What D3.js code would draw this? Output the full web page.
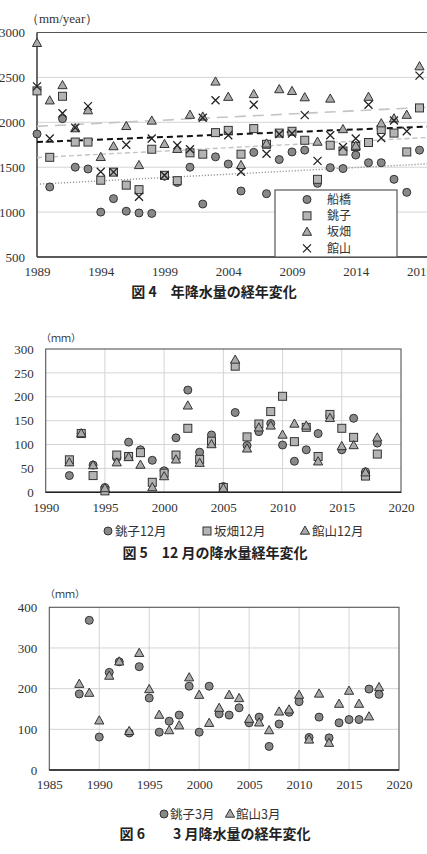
<!DOCTYPE html>
<html><head><meta charset="utf-8">
<script src="https://cdn.jsdelivr.net/npm/d3@7"></script>
<style>
html,body{margin:0;padding:0;background:#fff;overflow:hidden}
svg{display:block}
</style></head><body>
<script>
// ---------- Figure 4: annual precipitation ----------
const years4 = [1989,1990,1991,1992,1993,1994,1995,1996,1997,1998,1999,2000,2001,2002,2003,2004,2005,2006,2007,2008,2009,2010,2011,2012,2013,2014,2015,2016,2017,2018,2019];
const funabashi = [1870,1280,2040,1500,1480,1000,1150,1010,990,985,1400,1330,1500,1090,1615,1535,1235,1665,1205,1585,1670,1690,1320,1495,1485,1635,1550,1550,1365,1220,1690];
const choshi    = [2350,1610,2290,1780,1780,1355,1445,1300,1250,1700,1410,1350,1660,1645,1885,1910,1645,1930,1755,1880,1900,1800,1365,1745,1680,1730,1775,1920,1880,1670,2160];
const sakahata  = [2880,2240,2410,1930,2130,1610,1730,1955,1520,2015,1755,1700,2080,2060,2450,2280,1520,2310,1760,2365,2345,2275,1780,2260,1920,1735,2280,1985,2040,2080,2620];
const tateyama  = [2400,1820,2100,1940,2180,1450,1445,1750,1170,1820,1410,1745,1700,2050,2245,1855,1450,2195,1650,1870,1875,2080,1570,1855,1725,1820,2195,1825,2020,1900,2520];
const trendYears4 = [1989,2020];
const trendFunabashi = [1311,1540];
const trendChoshi    = [1608,1833];
const trendSakahata  = [1955,2170];
const trendTateyama  = [1780,1954];
const names4 = ["船橋","銚子","坂畑","館山"];
const yTicks4 = [500,1000,1500,2000,2500,3000];
const xTicks4 = [1989,1994,1999,2004,2009,2014,2019];

// ---------- Figure 5: December ----------
const years5 = [1992,1993,1994,1995,1996,1997,1998,1999,2000,2001,2002,2003,2004,2005,2006,2007,2008,2009,2010,2011,2012,2013,2014,2015,2016,2017,2018];
const choshiDec   = [35,123,57,10,72,105,89,67,45,114,214,84,120,12,167,98,127,144,99,65,89,123,160,89,155,43,103];
const sakahataDec = [68,123,35,3,78,75,83,21,40,78,134,69,107,10,264,116,143,169,201,106,136,75,163,134,115,34,80];
const tateyamaDec = [62,123,56,8,62,73,57,10,33,68,181,61,100,8,277,91,135,139,120,143,139,64,155,96,98,41,114];
const names5 = ["銚子12月","坂畑12月","館山12月"];
const yTicks5 = [0,50,100,150,200,250,300];
const xTicks5 = [1990,1995,2000,2005,2010,2015,2020];

// ---------- Figure 6: March ----------
const years6 = [1988,1989,1990,1991,1992,1993,1994,1995,1996,1997,1998,1999,2000,2001,2002,2003,2004,2005,2006,2007,2008,2009,2010,2011,2012,2013,2014,2015,2016,2017,2018];
const choshiMar   = [187,368,81,240,266,91,254,177,93,120,135,206,93,206,138,135,153,116,130,58,113,142,168,80,130,79,116,124,124,199,186];
const tateyamaMar = [211,189,121,231,266,95,287,198,135,97,109,227,184,115,152,184,176,125,116,97,143,148,184,74,187,66,162,194,162,131,203];
const names6 = ["銚子3月","館山3月"];
const yTicks6 = [0,100,200,300,400];
const xTicks6 = [1985,1990,1995,2000,2005,2010,2015,2020];

const SERIF = '"Liberation Serif","DejaVu Serif",serif';
const JP = '"Noto Sans CJK JP","Noto Sans",sans-serif';

const svg = d3.select("body").append("svg").attr("width",427).attr("height",854);

function numStyle(sel, size){
  sel.style("font-family",SERIF).style("font-size",(size||13)+"px").style("fill","#333");
}
function jpText(g, x, y, txt, size, anchor){
  return g.append("text").attr("x",x).attr("y",y).attr("dy","0.36em")
    .attr("text-anchor",anchor||"start")
    .style("font-family",JP).style("font-size",size+"px").style("fill","#333").text(txt);
}

// marker helpers
const STROKE = "#333";
function mark(g, type, x, y){
  if(type==="circle") return g.append("circle").attr("cx",x).attr("cy",y).attr("r",4).attr("fill","#888").attr("stroke",STROKE).attr("stroke-width",1);
  if(type==="square") return g.append("rect").attr("x",x-4).attr("y",y-4).attr("width",8).attr("height",8).attr("fill","#b4b4b4").attr("stroke",STROKE).attr("stroke-width",1);
  if(type==="triangle") return g.append("path").attr("d",`M${x},${y-5}L${x+4.6},${y+3.2}L${x-4.6},${y+3.2}Z`).attr("fill","#aaa").attr("stroke",STROKE).attr("stroke-width",1);
  if(type==="cross") return g.append("path").attr("d",`M${x-4},${y-4}L${x+4},${y+4}M${x-4},${y+4}L${x+4},${y-4}`).attr("stroke","#222").attr("stroke-width",1.3).attr("fill","none");
}

function axes(g, x, y, xTicks, yTicks, x0, y0){
  const ya = g.append("g").attr("transform",`translate(${x0},0)`).call(d3.axisLeft(y).tickValues(yTicks).tickSize(0).tickPadding(12).tickFormat(d3.format("d")));
  ya.select(".domain").remove();
  numStyle(ya.selectAll("text"));
  const xa = g.append("g").attr("transform",`translate(0,${y0})`).call(d3.axisBottom(x).tickValues(xTicks).tickSize(0).tickPadding(10).tickFormat(d3.format("d")));
  xa.select(".domain").remove();
  numStyle(xa.selectAll("text"));
}

// ===== Figure 4 =====
(function(){
  const g = svg.append("g");
  const x = d3.scaleLinear().domain([1989,2019]).range([37,419.5]);
  const y = d3.scaleLinear().domain([500,3000]).range([257,32.5]);
  const xR = x(2020.5);
  g.selectAll(".gl").data(yTicks4.filter(v=>v>500 && v<3000)).join("line")
    .attr("x1",x(1989)).attr("x2",xR).attr("y1",d=>y(d)).attr("y2",d=>y(d))
    .attr("stroke","#d4d4d4").attr("stroke-width",1);
  g.append("line").attr("x1",x(1989)).attr("x2",xR).attr("y1",y(3000)).attr("y2",y(3000)).attr("stroke","#555").attr("stroke-width",1.2);
  g.append("line").attr("x1",x(1989)).attr("x2",xR).attr("y1",y(500)).attr("y2",y(500)).attr("stroke","#222").attr("stroke-width",1.6);
  g.append("line").attr("x1",x(1989)).attr("x2",x(1989)).attr("y1",y(3000)).attr("y2",y(500)).attr("stroke","#444").attr("stroke-width",1.6);
  axes(g, x, y, xTicks4, yTicks4, x(1989), y(500));
  numStyle(g.append("text").attr("x",26).attr("y",23).text("（mm/year）"));
  const tl = (vals, color, dash, w) => g.append("line")
    .attr("x1",x(trendYears4[0])).attr("x2",x(trendYears4[1]))
    .attr("y1",y(vals[0])).attr("y2",y(vals[1]))
    .attr("stroke",color).attr("stroke-dasharray",dash).attr("stroke-width",w);
  tl(trendSakahata,"#c4c4c4","11,7",1.6);
  tl(trendChoshi,"#c4c4c4","5,3",1.4);
  tl(trendFunabashi,"#999","1.2,1.8",1.4);
  tl(trendTateyama,"#111","6,4",2);
  years4.forEach((yr,i)=>mark(g,"circle",x(yr),y(funabashi[i])));
  years4.forEach((yr,i)=>mark(g,"square",x(yr),y(choshi[i])));
  years4.forEach((yr,i)=>mark(g,"triangle",x(yr),y(sakahata[i])));
  years4.forEach((yr,i)=>mark(g,"cross",x(yr),y(tateyama[i])));
  const lg = g.append("g");
  lg.append("rect").attr("x",275).attr("y",190).attr("width",122).attr("height",y(500)-190).attr("fill","#fff").attr("stroke","#555").attr("stroke-width",1.2);
  const types4 = ["circle","square","triangle","cross"];
  names4.forEach((n,i)=>{
    const ly = 199.5 + i*16.3;
    mark(lg,types4[i],307,ly);
    jpText(lg,327,ly,n,12);
  });
  svg.append("text").attr("x",214).attr("y",292).attr("text-anchor","middle").attr("dy","0.36em")
    .style("font-family",JP).style("font-weight","bold").style("font-size","14px").style("fill","#222")
    .text("図 4　年降水量の経年変化");
})();

// ===== Figure 5 =====
(function(){
  const g = svg.append("g");
  const x = d3.scaleLinear().domain([1990,2020]).range([45.7,401]);
  const y = d3.scaleLinear().domain([0,300]).range([492.3,349]);
  g.selectAll(".vg").data(xTicks5.slice(1,-1)).join("line")
    .attr("x1",d=>x(d)).attr("x2",d=>x(d)).attr("y1",y(300)).attr("y2",y(0)).attr("stroke","#d4d4d4");
  g.selectAll(".hg").data(yTicks5.slice(1,-1)).join("line")
    .attr("x1",x(1990)).attr("x2",x(2020)).attr("y1",d=>y(d)).attr("y2",d=>y(d)).attr("stroke","#d4d4d4");
  g.append("rect").attr("x",x(1990)).attr("y",y(300)).attr("width",x(2020)-x(1990)).attr("height",y(0)-y(300)).attr("fill","none").attr("stroke","#555").attr("stroke-width",1.1);
  g.append("line").attr("x1",x(1990)).attr("x2",x(2020)).attr("y1",y(0)).attr("y2",y(0)).attr("stroke","#222").attr("stroke-width",1.5);
  axes(g, x, y, xTicks5, yTicks5, x(1990), y(0));
  jpText(g,41,338,"（ｍｍ）",10);
  years5.forEach((yr,i)=>mark(g,"circle",x(yr),y(choshiDec[i])));
  years5.forEach((yr,i)=>mark(g,"square",x(yr),y(sakahataDec[i])));
  years5.forEach((yr,i)=>mark(g,"triangle",x(yr),y(tateyamaDec[i])));
  const types5 = ["circle","square","triangle"];
  const lx5 = [108,207,305];
  names5.forEach((n,i)=>{
    mark(g,types5[i],lx5[i],531);
    jpText(g,lx5[i]+7,531,n,12.5);
  });
  svg.append("text").attr("x",215).attr("y",553).attr("text-anchor","middle").attr("dy","0.36em")
    .style("font-family",JP).style("font-weight","bold").style("font-size","14px").style("fill","#222")
    .text("図 5　12 月の降水量経年変化");
})();

// ===== Figure 6 =====
(function(){
  const g = svg.append("g");
  const x = d3.scaleLinear().domain([1985,2020]).range([49.3,399]);
  const y = d3.scaleLinear().domain([0,400]).range([770,607.3]);
  g.selectAll(".vg").data(xTicks6.slice(1,-1)).join("line")
    .attr("x1",d=>x(d)).attr("x2",d=>x(d)).attr("y1",y(400)).attr("y2",y(0)).attr("stroke","#d4d4d4");
  g.selectAll(".hg").data(yTicks6.slice(1,-1)).join("line")
    .attr("x1",x(1985)).attr("x2",x(2020)).attr("y1",d=>y(d)).attr("y2",d=>y(d)).attr("stroke","#d4d4d4");
  g.append("rect").attr("x",x(1985)).attr("y",y(400)).attr("width",x(2020)-x(1985)).attr("height",y(0)-y(400)).attr("fill","none").attr("stroke","#555").attr("stroke-width",1.1);
  g.append("line").attr("x1",x(1985)).attr("x2",x(2020)).attr("y1",y(0)).attr("y2",y(0)).attr("stroke","#222").attr("stroke-width",1.5);
  axes(g, x, y, xTicks6, yTicks6, x(1985), y(0));
  jpText(g,45,594,"（ｍｍ）",10);
  years6.forEach((yr,i)=>mark(g,"circle",x(yr),y(choshiMar[i])));
  years6.forEach((yr,i)=>mark(g,"triangle",x(yr),y(tateyamaMar[i])));
  const types6 = ["circle","triangle"];
  const lx6 = [164,230];
  names6.forEach((n,i)=>{
    mark(g,types6[i],lx6[i],814);
    jpText(g,lx6[i]+6,814,n,12.5);
  });
  svg.append("text").attr("x",215).attr("y",834).attr("text-anchor","middle").attr("dy","0.36em")
    .style("font-family",JP).style("font-weight","bold").style("font-size","14px").style("fill","#222")
    .text("図 6　　3 月降水量の経年変化");
})();
</script>
</body></html>
